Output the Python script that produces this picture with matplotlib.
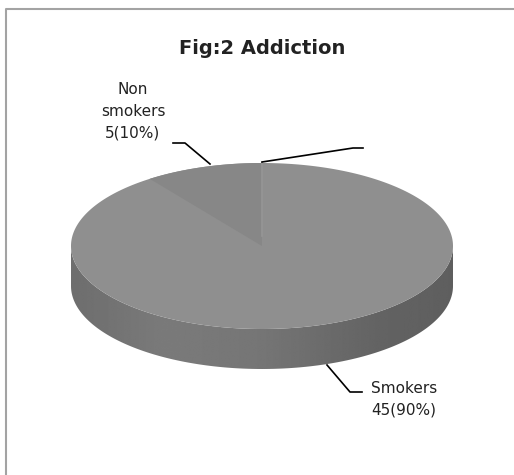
import numpy as np
import matplotlib
matplotlib.use("Agg")
import matplotlib.pyplot as plt
from matplotlib.patches import Polygon

# chart data
labels = ["Non\nsmokers\n5(10%)", "Smokers\n45(90%)"]
counts = [5, 45]
title = "Fig:2 Addiction"

W, H = 514, 475
plt.rcParams["font.family"] = ["DejaVu Sans"]

fig = plt.figure(figsize=(W / 100, H / 100), dpi=100)
ax = fig.add_axes([0, 0, 1, 1])
ax.set_xlim(0, W)
ax.set_ylim(H, 0)
ax.axis("off")

# frame of the chart area (only top and left visible)
ax.plot([5.5, 5.5, W], [H, 9, 9], color="#a3a3a3", lw=1.5, solid_capstyle="butt")

cx, cy, a, b, depth = 262, 246, 191, 83, 40


def ellipse_pt(phi, dy=0.0):
    # phi in degrees, clockwise from 12 o'clock, screen coords (y down)
    r = np.radians(phi)
    return cx + a * np.sin(r), cy - b * np.cos(r) + dy


# side (front half) with horizontal gradient
t = np.linspace(90, 270, 200)
top_arc = np.column_stack(ellipse_pt(t))
bot_arc = np.column_stack(ellipse_pt(t[::-1], depth))
side = Polygon(np.vstack([top_arc, bot_arc]), closed=True, facecolor="none", edgecolor="none")
ax.add_patch(side)
grad_x = np.linspace(0, 1, 256)
shade = np.interp(grad_x, [0, 0.25, 0.5, 0.8, 1.0], [0.43, 0.48, 0.46, 0.39, 0.37])
img = np.tile(shade, (2, 1))
im = ax.imshow(img, cmap="gray", vmin=0, vmax=1, extent=[cx - a, cx + a, cy + b + depth + 2, cy - 2],
               aspect="auto", interpolation="bilinear", zorder=1)
im.set_clip_path(side)

# top face
total = sum(counts)
span_non = 360 * counts[0] / total
phi_all = np.linspace(0, 360, 400)
ax.add_patch(Polygon(np.column_stack(ellipse_pt(phi_all)), closed=True,
                     facecolor="#8f8f8f", edgecolor="none", zorder=2))
phi_non = np.linspace(-span_non, 0, 60)
wedge = np.vstack([[cx, cy], np.column_stack(ellipse_pt(phi_non))])
ax.add_patch(Polygon(wedge, closed=True, facecolor="#878787", edgecolor="none", zorder=3))
ax.plot([cx, cx], [cy - b, cy - 10], color="#969696", lw=1.2, zorder=4)

# title
ax.text(262, 48, title, ha="center", va="center", fontsize=14, fontweight="bold", color="#222222")

# leader lines
lc = dict(color="black", lw=1.2, zorder=5)
ax.plot([173, 185, 210], [143, 143, 164], **lc)
ax.plot([262, 353, 363], [162, 148, 148], **lc)
ax.plot([327, 350, 362], [365, 392, 392], **lc)

# labels
ax.text(133, 111, labels[0], ha="center", va="center", fontsize=11, linespacing=1.55, color="#222222")
ax.text(404, 399, labels[1], ha="center", va="center", fontsize=11, linespacing=1.55, color="#222222")

fig.savefig("out.png", dpi=100)
